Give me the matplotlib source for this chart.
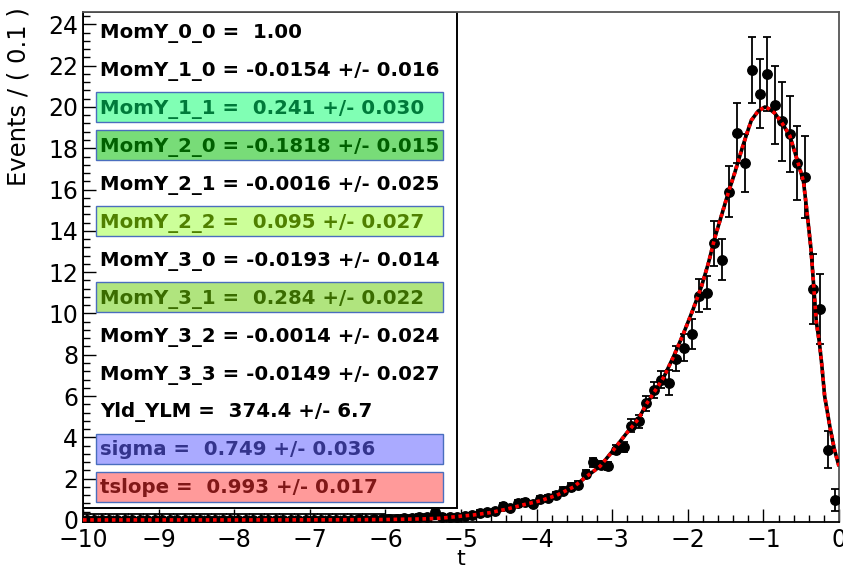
import matplotlib
matplotlib.use("Agg")
import matplotlib.pyplot as plt
from matplotlib.patches import Rectangle
from matplotlib.ticker import MultipleLocator
import numpy as np

# ---------------- data ----------------
bin_centers = [round(-9.95 + 0.1 * i, 2) for i in range(100)]

counts = [
    0.02, 0.02, 0.02, 0.02, 0.02, 0.02, 0.02, 0.02, 0.02, 0.02,   # -9.95 .. -9.05
    0.02, 0.02, 0.02, 0.02, 0.02, 0.02, 0.02, 0.02, 0.02, 0.02,   # -8.95 .. -8.05
    0.02, 0.02, 0.02, 0.02, 0.02, 0.02, 0.02, 0.02, 0.02, 0.02,   # -7.95 .. -7.05
    0.02, 0.02, 0.02, 0.02, 0.02, 0.02, 0.03, 0.02, 0.03, 0.03,   # -6.95 .. -6.05
    0.05, 0.05, 0.08, 0.10, 0.12, 0.12, 0.40, 0.15, 0.16, 0.16,   # -5.95 .. -5.05
    0.19, 0.24, 0.34, 0.37, 0.41, 0.67, 0.56, 0.80, 0.85, 0.78,   # -4.95 .. -4.05
    1.03, 1.05, 1.20, 1.41, 1.60, 1.70, 2.22, 2.80, 2.65, 2.60,   # -3.95 .. -3.05
    3.40, 3.52, 4.57, 4.77, 5.65, 6.30, 6.80, 6.65, 7.80, 8.35,   # -2.95 .. -2.05
    9.00, 10.85, 11.00, 13.40, 12.60, 15.90, 18.75, 17.30, 21.80, 20.65,  # -1.95 .. -1.05
    21.60, 20.10, 19.30, 18.70, 17.30, 16.60, 11.20, 10.20, 3.40, 0.97,  # -0.95 .. -0.05
]

errors = [
    0.25, 0.25, 0.25, 0.25, 0.25, 0.25, 0.25, 0.25, 0.25, 0.25,
    0.25, 0.25, 0.25, 0.25, 0.25, 0.25, 0.25, 0.25, 0.25, 0.25,
    0.25, 0.25, 0.25, 0.25, 0.25, 0.25, 0.25, 0.25, 0.25, 0.25,
    0.25, 0.25, 0.25, 0.25, 0.25, 0.25, 0.25, 0.25, 0.25, 0.25,
    0.20, 0.20, 0.15, 0.15, 0.15, 0.15, 0.20, 0.12, 0.10, 0.10,
    0.10, 0.10, 0.12, 0.12, 0.12, 0.14, 0.14, 0.15, 0.15, 0.15,
    0.15, 0.15, 0.16, 0.17, 0.18, 0.18, 0.20, 0.22, 0.20, 0.20,
    0.22, 0.25, 0.30, 0.30, 0.35, 0.40, 0.40, 0.62, 0.60, 0.65,
    0.72, 0.80, 0.80, 1.10, 1.00, 1.25, 1.45, 1.40, 1.60, 1.65,
    1.80, 1.90, 1.90, 1.85, 1.80, 2.00, 1.70, 1.70, 0.90, 0.55,
]

fit_t = [-10.0, -9.0, -8.0, -7.0, -6.5, -6.0, -5.5, -5.28, -5.06, -4.84, -4.62,
         -4.40, -4.18, -3.95, -3.73, -3.51, -3.34, -3.16, -2.98, -2.81, -2.65,
         -2.55, -2.46, -2.32, -2.19, -2.06, -1.93, -1.82, -1.73, -1.64, -1.55,
         -1.46, -1.38, -1.29, -1.22, -1.16, -1.07, -0.98, -0.92, -0.85, -0.75,
         -0.65, -0.55, -0.47, -0.42, -0.37, -0.33, -0.30, -0.26, -0.23, -0.19,
         -0.12, -0.06, 0.0]
fit_y = [0.0, 0.0, 0.0, 0.005, 0.01, 0.02, 0.05, 0.08, 0.16, 0.24, 0.35,
         0.52, 0.73, 0.93, 1.20, 1.60, 2.10, 2.60, 3.40, 4.20, 4.90,
         5.60, 6.10, 6.90, 7.90, 9.00, 10.20, 11.30, 12.40, 13.70, 14.80,
         15.90, 16.80, 17.90, 18.70, 19.35, 19.80, 20.00, 19.90, 19.70, 19.20,
         18.60, 17.40, 16.40, 14.80, 13.10, 11.10, 9.60, 8.60, 7.60, 6.00,
         4.50, 3.40, 2.60]

param_lines = [
    "MomY_0_0 =  1.00",
    "MomY_1_0 = -0.0154 +/- 0.016",
    "MomY_1_1 =  0.241 +/- 0.030",
    "MomY_2_0 = -0.1818 +/- 0.015",
    "MomY_2_1 = -0.0016 +/- 0.025",
    "MomY_2_2 =  0.095 +/- 0.027",
    "MomY_3_0 = -0.0193 +/- 0.014",
    "MomY_3_1 =  0.284 +/- 0.022",
    "MomY_3_2 = -0.0014 +/- 0.024",
    "MomY_3_3 = -0.0149 +/- 0.027",
    "Yld_YLM =  374.4 +/- 6.7",
    "sigma =  0.749 +/- 0.036",
    "tslope =  0.993 +/- 0.017",
]
# highlighted lines: index -> (fill colour, text colour)
highlights = {
    2: ("#80ffb4", "#007a3a"),
    3: ("#78dc78", "#006000"),
    5: ("#ccff99", "#4f8000"),
    7: ("#b0e47e", "#3a6c00"),
    11: ("#aaaaff", "#34348c"),
    12: ("#ff9a9a", "#801818"),
}

x_ticks = [-10, -9, -8, -7, -6, -5, -4, -3, -2, -1, 0]
y_ticks = [0, 2, 4, 6, 8, 10, 12, 14, 16, 18, 20, 22, 24]

# ---------------- figure ----------------
W, H = 843, 571
fig = plt.figure(figsize=(W / 100, H / 100), dpi=100)
fig.patch.set_facecolor("white")

L, R, T, B = 83, 839, 12, 522
ax = fig.add_axes([L / W, 1 - B / H, (R - L) / W, (B - T) / H])
ax.set_xlim(-10, 0)
ax.set_ylim(-0.1, 24.6)


def fig_xy(px, py):
    return px / W, 1 - py / H


# data points
ax.errorbar(bin_centers, counts, yerr=errors, fmt="o", color="black",
            markersize=6.8, elinewidth=1.3, capsize=2.8, capthick=1.3,
            zorder=3)

# fit curve: black with red dashes on top
ax.plot(fit_t, fit_y, color="black", lw=2.6, zorder=4, solid_capstyle="butt")
ax.plot(fit_t, fit_y, color="#ff0000", lw=2.6, ls=(0, (1.0, 1.0)), zorder=5)

# parameter pane
x0, y0 = fig_xy(83, 508)
x1, y1 = fig_xy(457, 12)
pane = Rectangle((x0, y0), x1 - x0, y1 - y0, transform=fig.transFigure,
                 facecolor="white", edgecolor="black", lw=1.4, zorder=1.5)
ax.add_artist(pane)

first_center = 31.0
spacing = 37.98
for i, line in enumerate(param_lines):
    cy = first_center + spacing * i
    color = "black"
    if i in highlights:
        fc, color = highlights[i]
        bx0, by0 = fig_xy(95.7, cy + 15)
        bx1, by1 = fig_xy(443.3, cy - 15)
        box = Rectangle((bx0, by0), bx1 - bx0, by1 - by0,
                        transform=fig.transFigure, facecolor=fc,
                        edgecolor="#4a6ebe", lw=1.0, zorder=1.6)
        ax.add_artist(box)
    tx, ty = fig_xy(100, cy + 6.7)
    ax.text(tx, ty, line, transform=fig.transFigure, fontsize=14.2,
            fontweight="bold", family="DejaVu Sans", color=color,
            ha="left", va="baseline", zorder=6)

# axes styling
for side in ["left", "bottom"]:
    ax.spines[side].set_color("black")
    ax.spines[side].set_linewidth(1.3)
for side in ["top", "right"]:
    ax.spines[side].set_color("#555555")
    ax.spines[side].set_linewidth(1.3)

ax.set_xticks(x_ticks)
ax.set_yticks(y_ticks)
ax.set_xticklabels([str(v) if v >= 0 else "\u2212" + str(-v) for v in x_ticks])
ax.set_yticklabels([str(v) for v in y_ticks])
ax.xaxis.set_minor_locator(MultipleLocator(0.2))
ax.yaxis.set_minor_locator(MultipleLocator(0.4))
ax.tick_params(which="both", direction="in", top=False, right=False,
               width=1.0, color="black")
ax.tick_params(which="major", length=9.5)
ax.tick_params(which="minor", length=5)
ax.tick_params(axis="y", which="major", labelsize=17, pad=3.5)
ax.tick_params(axis="x", which="major", labelsize=17, pad=4.5)

ax.set_ylabel("Events / ( 0.1 )", fontsize=17.5, loc="top")
ax.yaxis.set_label_coords((31 - L) / (R - L), 1 + (T - 7) / (B - T))
ax.set_xlabel("t", fontsize=16)
ax.xaxis.set_label_coords(0.5, (B - 549) / (B - T))
ax.xaxis.label.set_va("top")

fig.savefig("out.png", dpi=100)
